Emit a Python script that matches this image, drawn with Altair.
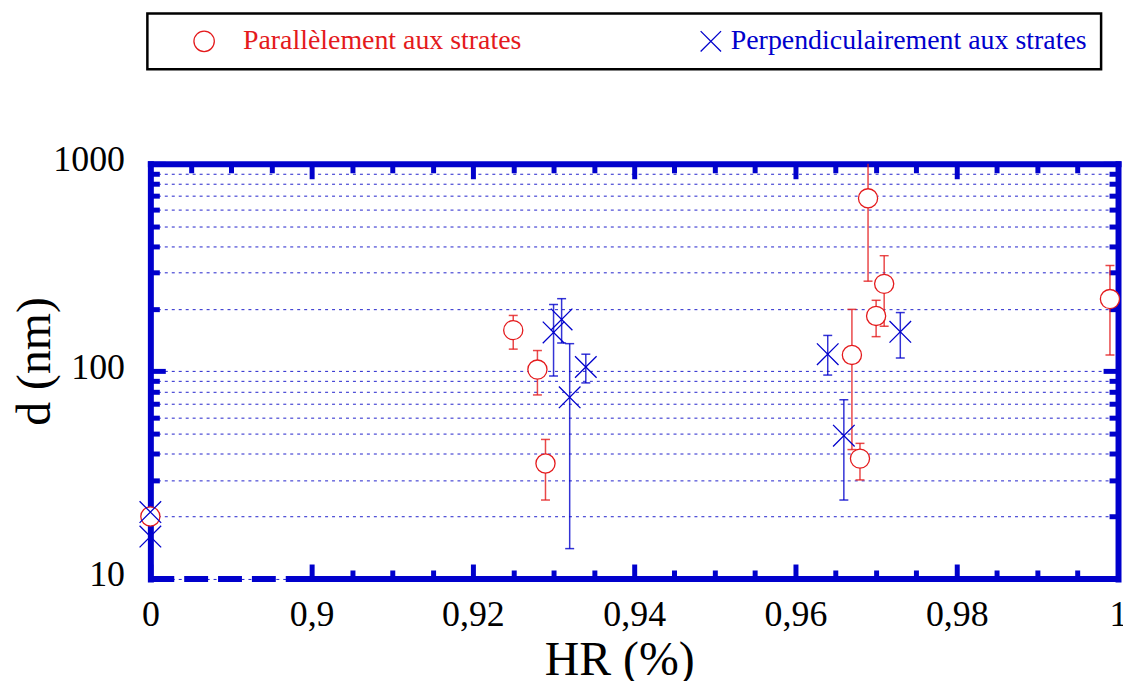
import altair as alt
import pandas as pd

# ---------------- data ----------------
SERIES = ["Parallèlement aux strates", "Perpendiculairement aux strates"]

# red circles (HR = 0 is drawn on the axis break)
hr_par = [0, 0.925, 0.928, 0.929, 0.967, 0.968, 0.969, 0.970, 0.971, 0.999]
d_par = [20, 158, 102, 36, 120, 38, 682, 185, 264, 223]
lo_par = [None, 128, 77, 24, 42, 30, 272, 147, 165, 120]
hi_par = [None, 186, 126, 47, 199, 45, 1650, 220, 361, 324]

# blue crosses
hr_perp = [0, 0, 0.930, 0.931, 0.932, 0.934, 0.964, 0.966, 0.973]
d_perp = [21, 16, 154, 178, 75, 105, 121, 49, 155]
lo_perp = [None, None, 95, 137, 14, 88, 96, 24, 116]
hi_perp = [None, None, 210, 224, 136, 121, 149, 73, 192]

# axes
x_break = 0.88          # position where HR = 0 is drawn
x_break_end = 0.8975    # end of the dashed (broken) part of the bottom axis
x_ticks_bottom = [0.88, 0.9, 0.905, 0.91, 0.915, 0.92, 0.925, 0.93, 0.935, 0.94,
                  0.945, 0.95, 0.955, 0.96, 0.965, 0.97, 0.975, 0.98, 0.985,
                  0.99, 0.995, 1.0]
x_ticks_top = [0.885, 0.89, 0.895, 0.9, 0.905, 0.91, 0.915, 0.92, 0.925, 0.93,
               0.935, 0.94, 0.945, 0.95, 0.955, 0.96, 0.965, 0.97, 0.975, 0.98,
               0.985, 0.99, 0.995]
y_ticks = [10, 20, 30, 40, 50, 60, 70, 80, 90, 100, 200, 300, 400, 500, 600,
           700, 800, 900, 1000]

RED = "#e41a1c"
BLUE = "#0000cc"
FONT = "Liberation Serif"
XPATH = "M-1,-1L1,1M-1,1L1,-1"

rows = []
for s, hr, d, lo, hi in [(SERIES[0], hr_par, d_par, lo_par, hi_par),
                         (SERIES[1], hr_perp, d_perp, lo_perp, hi_perp)]:
    for a, b, c, e in zip(hr, d, lo, hi):
        rows.append({"serie": s, "hr": a, "d": b, "lo": c, "hi": e})
df = pd.DataFrame(rows)
df_par = df[df["serie"] == SERIES[0]].reset_index(drop=True)
df_perp = df[df["serie"] == SERIES[1]].reset_index(drop=True)
err_par = df_par.dropna(subset=["lo", "hi"]).reset_index(drop=True)
err_perp = df_perp.dropna(subset=["lo", "hi"]).reset_index(drop=True)
frame_dashed = pd.DataFrame({"x0": [x_break], "x1": [x_break_end]})
frame_solid = pd.DataFrame({"x0": [x_break_end], "x1": [1.0]})

XCALC = f"datum.hr == 0 ? {x_break} : datum.hr"
MAJX = "abs(datum.value * 50 - round(datum.value * 50)) < 0.000001"
MAJY = "(datum.value == 10 || datum.value == 100 || datum.value == 1000)"

xs = alt.Scale(domain=[x_break, 1.0], nice=False, zero=False)
ys = alt.Scale(type="log", domain=[10, 1000], nice=False)
cscale = alt.Scale(domain=SERIES, range=[RED, BLUE])
sscale = alt.Scale(domain=SERIES, range=["circle", XPATH])

bottom_axis = alt.Axis(
    orient="bottom", values=x_ticks_bottom, domain=False, grid=False,
    tickSize={"expr": f"{MAJX} ? -15 : -9"}, tickWidth=5, tickColor=BLUE,
    labelExpr=f"datum.value < 0.885 ? '0' : ({MAJX} ? replace(format(datum.value, '.2~f'), '.', ',') : '')",
    labelFont=FONT, labelFontSize=36, labelColor="black", labelPadding=34,
    labelFlush=False, labelOverlap=False, labelBound=False,
    title="HR (%)", titleFont=FONT, titleFontSize=48, titleFontWeight="normal",
    titleColor="black", titleX=471, titleY=58, titleBaseline="top", titleAlign="center",
)
left_axis = alt.Axis(
    orient="left", values=y_ticks, domain=True, domainColor=BLUE, domainWidth=6,
    domainCap="square",
    tickSize={"expr": f"{MAJY} ? -15 : -9"}, tickWidth=5, tickColor=BLUE,
    grid=True, gridColor="#2222cc", gridOpacity=1, gridDash=[3, 4], gridWidth=1,
    labelExpr=f"{MAJY} ? format(datum.value, 'd') : ''",
    labelFont=FONT, labelFontSize=36, labelColor="black", labelPadding=41,
    labelOffset=-4, labelOverlap=False, labelBound=False, labelFlush=False,
    title="d (nm)", titleFont=FONT, titleFontSize=48, titleFontWeight="normal",
    titleColor="black", titleAngle=270, titleX=-101, titleY=198,
    titleBaseline="alphabetic", titleAlign="center",
)
top_axis = alt.Axis(
    orient="top", values=x_ticks_top, domain=True, domainColor=BLUE, domainWidth=6,
    domainCap="square", tickSize={"expr": f"{MAJX} ? -15 : -9"}, tickWidth=5,
    tickColor=BLUE, labels=False, grid=False, title=None,
)
right_axis = alt.Axis(
    orient="right", values=y_ticks, domain=True, domainColor=BLUE, domainWidth=6,
    domainCap="square", tickSize={"expr": f"{MAJY} ? -15 : -9"}, tickWidth=5,
    tickColor=BLUE, labels=False, grid=False, title=None,
)

legend = alt.Legend(
    title=None, orient="none", legendX=-3, legendY=-151, direction="horizontal",
    strokeColor="black", padding=14, symbolOffset=29,
    labelOffset={"expr": f"datum.value == '{SERIES[0]}' ? 25 : 6"},
    columnPadding=147, labelFont=FONT, labelFontSize=28,
    labelColor={"expr": f"datum.value == '{SERIES[0]}' ? '{RED}' : '{BLUE}'"},
    symbolSize=420, symbolStrokeWidth=1.3, labelLimit=0,
)

def point_layer(data, size, axes, **mark_kw):
    xa, ya = axes
    return alt.Chart(data).transform_calculate(xp=XCALC).mark_point(
        filled=False, strokeWidth=1.3, opacity=1, size=size, **mark_kw
    ).encode(
        x=alt.X("xp:Q", scale=xs, axis=xa),
        y=alt.Y("d:Q", scale=ys, axis=ya),
        color=alt.Color("serie:N", scale=cscale, legend=legend),
        shape=alt.Shape("serie:N", scale=sscale, legend=legend),
    )

circles = point_layer(df_par, 370, (bottom_axis, left_axis), fill="white")
crosses = point_layer(df_perp, 470, (None, None))

def err_rules(data, color, axes=(None, None)):
    xa, ya = axes
    return alt.Chart(data).transform_calculate(xp=XCALC).mark_rule(
        strokeWidth=1.5, opacity=0.8, clip=True, color=color
    ).encode(
        x=alt.X("xp:Q", scale=xs, axis=xa),
        y=alt.Y("lo:Q", scale=ys, axis=ya),
        y2="hi:Q",
    )

def caps(data, color, field):
    return alt.Chart(data).transform_calculate(xp=XCALC).mark_tick(
        orient="horizontal", size=9, thickness=1.5, opacity=0.8, clip=True, color=color
    ).encode(
        x=alt.X("xp:Q", scale=xs, axis=None),
        y=alt.Y(f"{field}:Q", scale=ys, axis=None),
    )

def frame_part(data, dash):
    kw = {"strokeDash": dash, "strokeCap": "butt"} if dash else {"strokeCap": "square"}
    return alt.Chart(data).mark_rule(color=BLUE, strokeWidth=6, **kw).encode(
        x=alt.X("x0:Q", scale=xs, axis=None),
        x2="x1:Q",
        y=alt.YDatum(10, type="quantitative", scale=ys, axis=None),
    )

chart = alt.layer(
    frame_part(frame_dashed, [24, 10]),
    frame_part(frame_solid, None),
    err_rules(err_par, RED, (top_axis, right_axis)),
    caps(err_par, RED, "lo"),
    caps(err_par, RED, "hi"),
    err_rules(err_perp, BLUE),
    caps(err_perp, BLUE, "lo"),
    caps(err_perp, BLUE, "hi"),
    circles,
    crosses,
).resolve_axis(
    x="independent", y="independent"
).properties(
    width=972, height=417,
    padding={"left": 143, "top": 155, "right": 5, "bottom": 101},
    autosize=alt.AutoSizeParams(type="none"),
    background="white",
).configure(
    font=FONT
).configure_view(
    stroke=None
).configure_legend(
    strokeWidth=2.5, labelFont=FONT, labelFontSize=28, labelLimit=0
)

chart.save("out.html", embed_options={"renderer": "svg", "actions": False})
